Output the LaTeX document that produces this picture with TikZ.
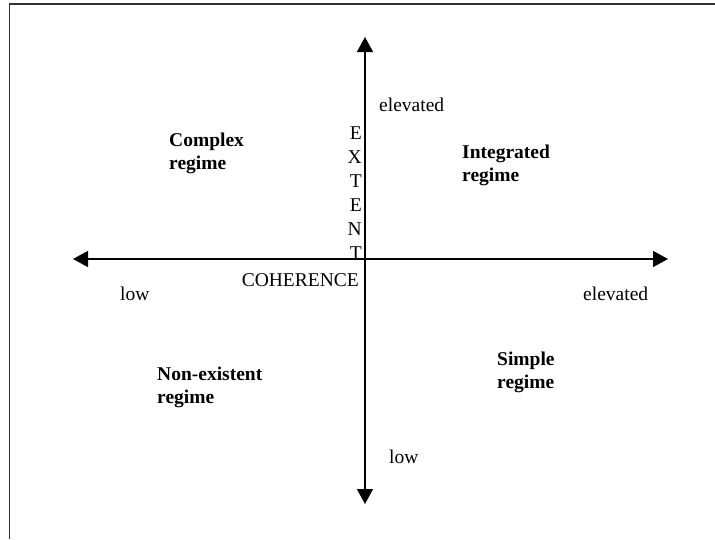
\documentclass[tikz,border=0pt]{standalone}
\usepackage{fontspec}
\setmainfont{Liberation Serif}
\usetikzlibrary{arrows.meta}
\begin{document}
\begin{tikzpicture}[x=1pt,y=-1pt,
  axis/.style={line width=1.3pt,-{Triangle[length=15pt,width=16pt]}},
  lbl/.style={inner sep=0pt,font=\fontsize{19.5}{23}\selectfont},
  reg/.style={inner sep=0pt,align=left,font=\fontsize{19.5}{23}\selectfont\bfseries}]
\useasboundingbox (0,0) rectangle (715,539);
% frame (top and left edges only)
\coordinate (ftr) at (715,4);
\coordinate (ftl) at (9.5,4);
\coordinate (fbl) at (9.5,539);
\draw[line width=1.5pt,black!80] (ftr) -- (ftl) -- (fbl);
% axis end points
\coordinate (xl) at (73,259);
\coordinate (xr) at (668,259);
\coordinate (yt) at (365,37);
\coordinate (yb) at (365,504);
\coordinate (o) at (365,259);
\draw[axis] (o) -- (xl);
\draw[axis] (o) -- (xr);
\draw[axis] (o) -- (yt);
\draw[axis] (o) -- (yb);
% labels
\node[lbl,anchor=west] (elevT) at (379,105) {elevated};
\node[lbl,anchor=east,align=right,font=\fontsize{19.5}{24}\selectfont] (extent) at (362,193) {E\\X\\T\\E\\N\\T};
\node[lbl,anchor=east] (coh) at (359,280) {COHERENCE};
\node[lbl,anchor=west] (lowL) at (120,294) {low};
\node[lbl,anchor=west] (elevR) at (583,294) {elevated};
\node[lbl,anchor=west] (lowB) at (389,457) {low};
% regimes
\node[reg,anchor=west] (cplx) at (169,153.5) {Complex\\regime};
\node[reg,anchor=west] (integ) at (462,165) {Integrated\\regime};
\node[reg,anchor=west] (nonex) at (157,387) {Non-existent\\regime};
\node[reg,anchor=west] (simple) at (497,372.5) {Simple\\regime};
\end{tikzpicture}
\end{document}
